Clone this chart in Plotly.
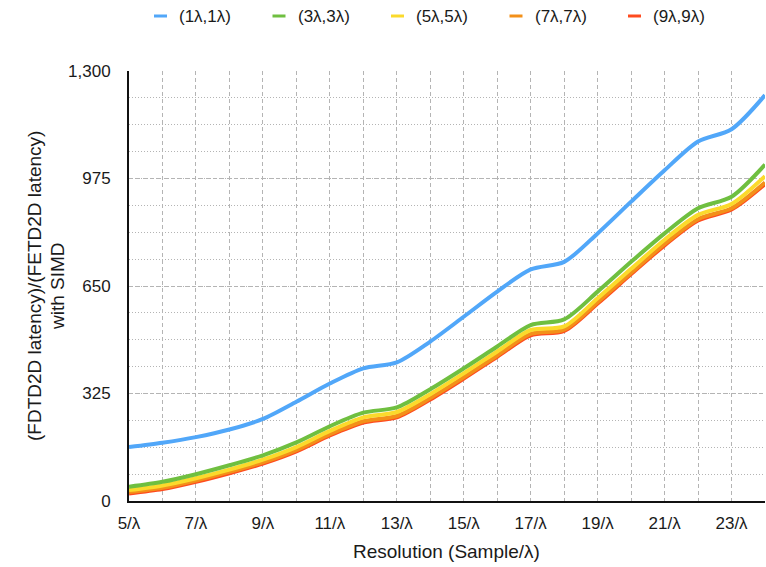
import plotly.graph_objects as go

# Resolution in samples per wavelength
resolution = list(range(5, 25))

# Latency ratio FDTD2D / FETD2D (with SIMD) for each domain size
ratio_1 = [163, 176, 193, 216, 248, 300, 355, 401, 419, 482, 557, 633, 700, 723, 809, 905, 1000, 1087, 1124, 1227]
ratio_3 = [43, 58, 81, 108, 138, 177, 226, 267, 283, 338, 401, 467, 532, 549, 633, 723, 809, 885, 920, 1017]
ratio_5 = [33, 47, 69, 95, 125, 163, 212, 253, 269, 323, 386, 452, 517, 528, 613, 702, 790, 865, 898, 982]
ratio_7 = [27, 40, 62, 88, 117, 154, 202, 241, 257, 311, 374, 440, 505, 518, 601, 690, 777, 852, 885, 963]
ratio_9 = [23, 36, 58, 84, 113, 150, 198, 237, 253, 307, 370, 436, 501, 514, 597, 686, 773, 848, 881, 958]

series_names = ["(1λ,1λ)", "(3λ,3λ)", "(5λ,5λ)", "(7λ,7λ)", "(9λ,9λ)"]
series_values = [ratio_1, ratio_3, ratio_5, ratio_7, ratio_9]
series_colors = ["#51A7F9", "#6FBF40", "#FBDA2C", "#F39019", "#FE4B1F"]

x_tick_vals = list(range(5, 24, 2))
x_tick_text = [f"{v}/λ" for v in x_tick_vals]
y_tick_vals = [0, 325, 650, 975, 1300]
y_tick_text = [f"{v:,}" for v in y_tick_vals]

FONT = "Liberation Sans, Arial, Helvetica, sans-serif"
TEXT = "#1a1a1a"
GRID = "#b4b4b4"

W, H = 766, 567
ML, MR, MT, MB = 129, 1, 71, 66
plot_w = W - ML - MR
plot_h = H - MT - MB


def px_x(px):
    return (px - ML) / plot_w


def px_y(py):
    return (H - MB - py) / plot_h


fig = go.Figure()

# draw the largest domain first so the smaller ones sit on top
for name, vals, col in reversed(list(zip(series_names, series_values, series_colors))):
    fig.add_trace(go.Scatter(
        x=resolution, y=vals, name=name, mode="lines",
        line=dict(color=col, width=4, shape="spline", smoothing=0.8),
        showlegend=False,
    ))

fig.update_layout(
    width=W, height=H,
    margin=dict(l=ML, r=MR, t=MT, b=MB),
    paper_bgcolor="white", plot_bgcolor="white",
    font=dict(family=FONT, size=17, color=TEXT),
    xaxis=dict(
        range=[5, 24],
        tickmode="array", tickvals=x_tick_vals, ticktext=x_tick_text,
        ticks="", ticklabelstandoff=6,
        tickfont=dict(size=17, color=TEXT),
        showgrid=True, gridcolor=GRID, gridwidth=1, griddash="4px,3px",
        minor=dict(dtick=1, tick0=5, showgrid=True, gridcolor=GRID,
                   gridwidth=1, griddash="4px,3px"),
        showline=True, linecolor="#111111", linewidth=2,
        zeroline=False,
    ),
    yaxis=dict(
        range=[0, 1300],
        tickmode="array", tickvals=y_tick_vals, ticktext=y_tick_text,
        ticks="", ticklabelstandoff=13,
        tickfont=dict(size=17, color=TEXT),
        showgrid=True, gridcolor=GRID, gridwidth=1, griddash="4px,3px",
        minor=dict(dtick=81.25, tick0=0, showgrid=True, gridcolor=GRID,
                   gridwidth=1, griddash="1px,2px"),
        showline=True, linecolor="#111111", linewidth=2,
        zeroline=False,
    ),
)

# axis titles
fig.add_annotation(
    xref="paper", yref="paper", x=px_x(446), y=px_y(551),
    xanchor="center", yanchor="middle", showarrow=False,
    text="Resolution (Sample/λ)", font=dict(size=19, color=TEXT),
)
fig.add_annotation(
    xref="paper", yref="paper", x=px_x(34), y=px_y(286),
    xanchor="center", yanchor="middle", showarrow=False, textangle=-90,
    text="(FDTD2D latency)/(FETD2D latency)", font=dict(size=19, color=TEXT),
)
fig.add_annotation(
    xref="paper", yref="paper", x=px_x(57), y=px_y(286),
    xanchor="center", yanchor="middle", showarrow=False, textangle=-90,
    text="with SIMD", font=dict(size=19, color=TEXT),
)

# legend row across the top
legend_y = px_y(16)
first_marker = 154
pitch = 118.5
for i, (name, col) in enumerate(zip(series_names, series_colors)):
    x0 = first_marker + i * pitch
    fig.add_shape(
        type="line", xref="paper", yref="paper",
        x0=px_x(x0), x1=px_x(x0 + 13),
        y0=legend_y, y1=legend_y,
        line=dict(color=col, width=3),
    )
    fig.add_annotation(
        xref="paper", yref="paper",
        x=px_x(x0 + 23), y=legend_y,
        xanchor="left", yanchor="middle", showarrow=False,
        text=name, font=dict(size=17, color=TEXT),
    )

fig.write_html("out.html")
